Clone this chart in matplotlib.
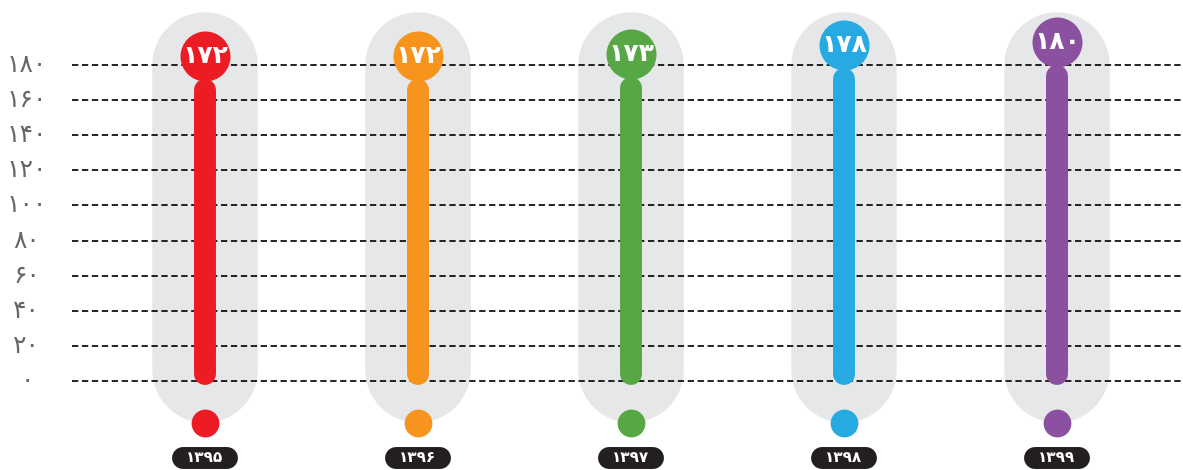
import matplotlib.pyplot as plt

# data
years = [1395, 1396, 1397, 1398, 1399]
values = [172, 172, 173, 178, 180]
colors = ["#ed1c24", "#f7941d", "#57a845", "#27aae1", "#8b51a0"]
ticks = list(range(0, 181, 20))

FA = str.maketrans("0123456789", "۰۱۲۳۴۵۶۷۸۹")


def fa(n):
    return str(n).translate(FA)


plt.rcParams['font.family'] = ['DejaVu Sans']

fig = plt.figure(figsize=(11.83, 4.70), dpi=100)
ax = fig.add_axes([0, 0, 1, 1])
ax.set_xlim(-0.962, 4.592)
ax.set_ylim(-50.7, 217.0)
ax.axis("off")

px = 1 / 1.756  # one pixel in value units
xpx = 1 / 213.0  # one pixel in category units

# dashed grid
for t in ticks:
    ax.plot([-0.624, 4.592], [t, t], color="#111111", lw=1.3,
            ls=(0, (3.5, 2)), zorder=2)
    ax.text(-0.836, t, fa(t), ha="center", va="center", fontsize=18,
            color="#666666", zorder=3)

for i, (yr, v, c) in enumerate(zip(years, values, colors)):
    # gray pill background
    ax.plot([i, i], [6.3, 180], color="#e6e7e8", lw=76, solid_capstyle="round",
            zorder=1)
    # bar
    ax.plot([i, i], [-2.3 + 11 * px, v - 11 * px], color=c, lw=15.8,
            solid_capstyle="round", zorder=4)
    # top bubble with value
    ax.scatter([i], [v + 23 * px], s=1296, color=c, zorder=5, linewidths=0)
    ax.text(i, v + 23 * px, fa(v), ha="center", va="center", fontsize=18,
            fontweight="bold", color="white", zorder=6)
    # bottom dot
    ax.scatter([i], [(381 - 423) * px], s=400, color=c, zorder=5, linewidths=0)
    # year label on a dark rounded pill
    yl = (381 - 458) * px
    ax.plot([i - 22 * xpx, i + 22 * xpx], [yl, yl], color="#231f20", lw=15.8,
            solid_capstyle="round", zorder=5)
    ax.text(i, yl, fa(yr), ha="center", va="center", fontsize=11,
            fontweight="bold", color="white", zorder=6)

fig.savefig("out.png", dpi=100)
